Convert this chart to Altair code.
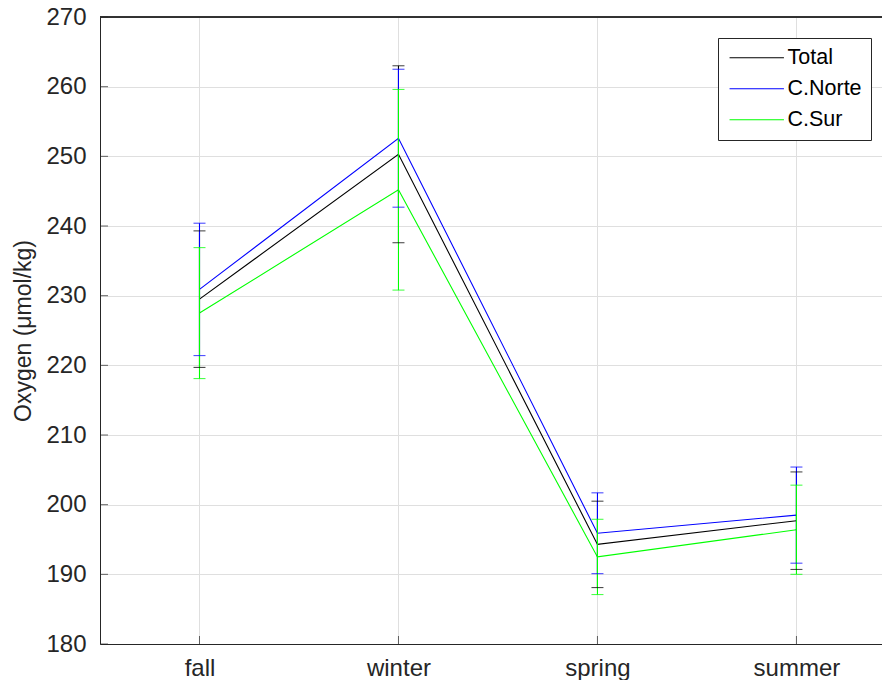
import altair as alt
import pandas as pd

seasons = ["fall", "winter", "spring", "summer"]
series_names = ["Total", "C.Norte", "C.Sur"]
series_colors = ["#000000", "#0000ff", "#00ff00"]

total_mean = [229.5, 250.3, 194.3, 197.7]
total_std = [9.8, 12.7, 6.2, 7.0]
norte_mean = [230.9, 252.6, 195.9, 198.5]
norte_std = [9.5, 9.9, 5.8, 6.9]
sur_mean = [227.5, 245.2, 192.5, 196.4]
sur_std = [9.4, 14.4, 5.4, 6.4]

y_ticks = [180, 190, 200, 210, 220, 230, 240, 250, 260, 270]

rows = []
for si, (name, means, stds) in enumerate(zip(series_names,
                                             [total_mean, norte_mean, sur_mean],
                                             [total_std, norte_std, sur_std])):
    for i, s in enumerate(seasons):
        rows.append({"series": name, "order": si, "idx": i + 1, "season": s,
                     "mean": means[i], "lo": means[i] - stds[i], "hi": means[i] + stds[i]})
df = pd.DataFrame(rows)

W, H = 782, 627
FONT = "Liberation Sans"
TXT = "#262626"

label_expr = " : ".join(f"datum.value == {i + 1} ? '{s}'" for i, s in enumerate(seasons)) + " : ''"

xscale = alt.Scale(domain=[0.5, 4.43], nice=False, zero=False)
yscale = alt.Scale(domain=[180, 270], nice=False, zero=False)
color = alt.Color("series:N", scale=alt.Scale(domain=series_names, range=series_colors),
                  sort=series_names,
                  legend=alt.Legend(title=None, orient="none", legendX=618, legendY=21,
                                    symbolType="M-3.4,0H3.4", symbolSize=256, symbolStrokeWidth=1,
                                    symbolOffset=19, labelOffset=20,
                                    labelFont=FONT, labelFontSize=21.5, labelColor="#000000",
                                    rowPadding=8, padding=9,
                                    strokeColor=TXT, fillColor="white", cornerRadius=0))

base = alt.Chart(df)

xaxis = alt.Axis(values=[1, 2, 3, 4], labelExpr=label_expr, title=None, grid=True,
                 gridColor="#dfdfdf", ticks=False, tickSize=0, labelPadding=12,
                 labelFont=FONT, labelFontSize=24, labelColor=TXT,
                 domainColor=TXT, labelFlush=False)
yaxis = alt.Axis(values=y_ticks, title="Oxygen (μmol/kg)", grid=True, gridColor="#dfdfdf",
                 ticks=False, tickSize=0, labelPadding=14, labelFont=FONT, labelFontSize=24,
                 labelColor=TXT, domainColor=TXT, titleFont=FONT, titleFontSize=23,
                 titleFontWeight="normal", titleColor=TXT, titlePadding=10)

lines = base.mark_line(strokeWidth=1.1).encode(
    x=alt.X("idx:Q", scale=xscale, axis=xaxis),
    y=alt.Y("mean:Q", scale=yscale, axis=yaxis),
    color=color,
    order="idx:Q",
    detail="series:N",
)
bars = base.mark_rule(strokeWidth=1.1).encode(
    x="idx:Q", y="lo:Q", y2="hi:Q",
    color=alt.Color("series:N", legend=None),
    order="order:Q",
)
caps_lo = base.mark_tick(orient="horizontal", size=12, thickness=1.1).encode(
    x="idx:Q", y="lo:Q", color=alt.Color("series:N", legend=None), order="order:Q")
caps_hi = base.mark_tick(orient="horizontal", size=12, thickness=1.1).encode(
    x="idx:Q", y="hi:Q", color=alt.Color("series:N", legend=None), order="order:Q")

tick_df = pd.DataFrame({"v": y_ticks})
ytick_marks = alt.Chart(tick_df).mark_tick(orient="horizontal", size=8, thickness=1, color=TXT).encode(
    y=alt.Y("v:Q", scale=yscale), x=alt.value(4))
xtick_df = pd.DataFrame({"v": [1, 2, 3, 4]})
xtick_marks = alt.Chart(xtick_df).mark_tick(orient="vertical", size=8, thickness=1, color=TXT).encode(
    x=alt.X("v:Q", scale=xscale), y=alt.value(H - 4))
top_border = alt.Chart(xtick_df).mark_rule(color=TXT, strokeWidth=1).encode(
    x=alt.value(0), x2=alt.value(W), y=alt.value(0))

chart = alt.layer(lines, bars, caps_lo, caps_hi, ytick_marks, xtick_marks, top_border).properties(
    width=W, height=H,
    autosize=alt.AutoSizeParams(type="none"),
    padding={"left": 92, "top": 9, "right": 0, "bottom": 36},
).configure_view(stroke=None).configure(background="white")

chart.save("out.html", embed_options={"renderer": "svg", "actions": False})
